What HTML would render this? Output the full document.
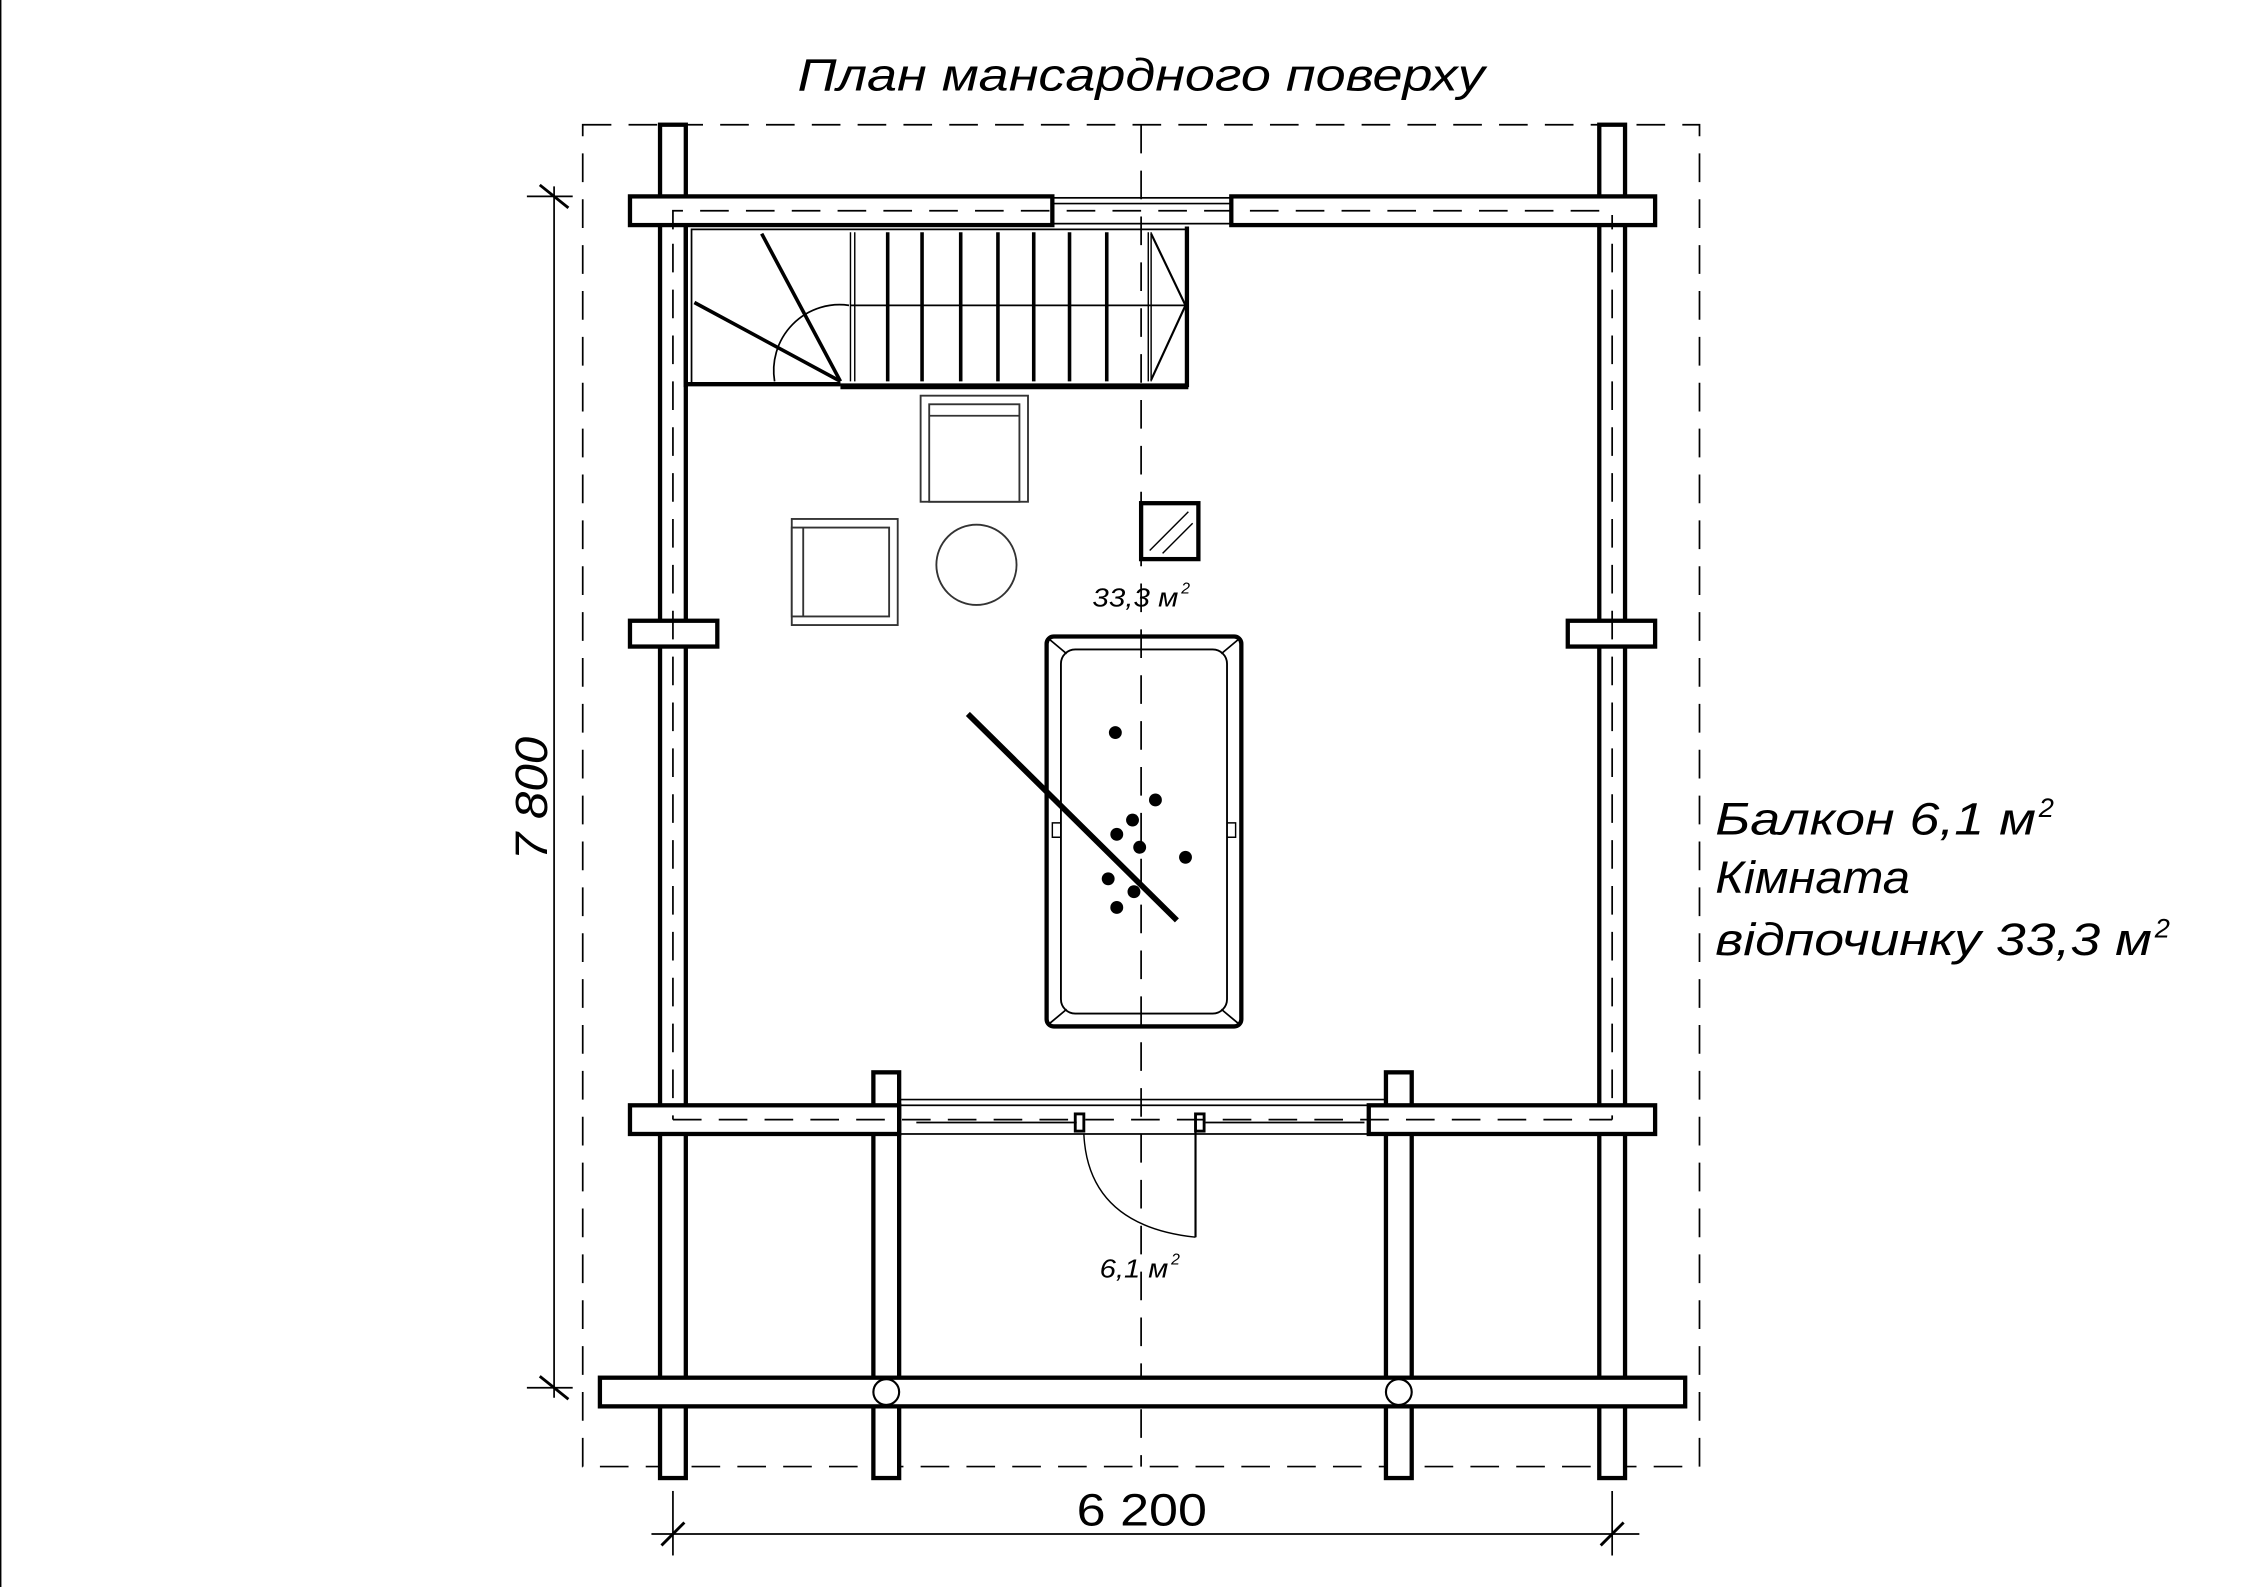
<!DOCTYPE html>
<html><head><meta charset="utf-8"><style>
html,body{margin:0;padding:0;background:#fff;}
svg{display:block;}
text{font-family:"Liberation Sans",sans-serif;font-style:italic;fill:#000;}
</style></head><body>
<svg width="2245" height="1587" viewBox="0 0 1568 1107" preserveAspectRatio="none" xmlns="http://www.w3.org/2000/svg">
<rect x="0" y="0" width="1568" height="1107" fill="#fff"/>
<line x1="0.5" y1="0" x2="0.5" y2="1107" stroke="#000" stroke-width="1"/>
<text x="557" y="63" font-size="32" textLength="480" lengthAdjust="spacingAndGlyphs">План мансардного поверху</text>

<!-- dashed outer -->
<g stroke="#000" stroke-width="1.2" fill="none" stroke-dasharray="20,12">
<rect x="407" y="87" width="780" height="936"/>
<line x1="797" y1="87" x2="797" y2="1023"/>
</g>

<!-- walls -->
<g stroke="#000" stroke-width="3" fill="#fff">
<rect x="461" y="87" width="18" height="944"/>
<rect x="1117" y="87" width="18" height="944"/>
<rect x="610" y="748" width="18" height="283"/>
<rect x="968" y="748" width="18" height="283"/>
<rect x="440" y="137" width="295" height="20"/>
<rect x="860" y="137" width="296" height="20"/>
<rect x="440" y="771" width="188" height="20"/>
<rect x="956" y="771" width="200" height="20"/>
<rect x="419" y="961" width="758" height="20"/>
<rect x="440" y="433" width="61" height="18"/>
<rect x="1095" y="433" width="61" height="18"/>
</g>
<g fill="#fff">
<rect x="463" y="139" width="14" height="16"/>
<rect x="1119" y="139" width="14" height="16"/>
<rect x="463" y="773" width="14" height="16"/>
<rect x="1119" y="773" width="14" height="16"/>
<rect x="612" y="773" width="14" height="16"/>
<rect x="970" y="773" width="14" height="16"/>
<rect x="463" y="963" width="14" height="16"/>
<rect x="1119" y="963" width="14" height="16"/>
<rect x="612" y="963" width="14" height="16"/>
<rect x="970" y="963" width="14" height="16"/>
<rect x="463" y="435" width="14" height="14"/>
<rect x="1119" y="435" width="14" height="14"/>
</g>
<circle cx="619" cy="971" r="9" fill="#fff" stroke="#000" stroke-width="1.5"/>
<circle cx="977" cy="971" r="9" fill="#fff" stroke="#000" stroke-width="1.5"/>

<!-- windows -->
<g stroke="#000" stroke-width="1.2" fill="none">
<rect x="735" y="138" width="125" height="18"/>
<line x1="735" y1="142" x2="860" y2="142"/>
<line x1="628" y1="767" x2="968" y2="767"/>
<rect x="628" y="771" width="328" height="20"/>
<line x1="640" y1="783" x2="752" y2="783"/>
<line x1="842" y1="783" x2="953" y2="783"/>
</g>

<!-- inner dashed -->
<g stroke="#000" stroke-width="1.2" fill="none" stroke-dasharray="20,12">
<path d="M470 160 L470 147 L1126 147 L1126 160"/>
<line x1="470" y1="170" x2="470" y2="781"/>
<line x1="1126" y1="170" x2="1126" y2="781"/>
<line x1="470" y1="781" x2="1126" y2="781"/>
</g>

<!-- stair -->
<g stroke="#000" fill="none">
<path d="M483 268 L483 160 L829 160 L829 268 Z" stroke-width="1.2"/>
<line x1="480" y1="268" x2="587" y2="268" stroke-width="3"/>
<line x1="587" y1="270" x2="830" y2="270" stroke-width="3"/>
<line x1="829" y1="158" x2="829" y2="270" stroke-width="3"/>
<line x1="479" y1="158" x2="479" y2="270" stroke-width="3"/>
<line x1="594" y1="213" x2="829" y2="213" stroke-width="1.2"/>
<line x1="532" y1="163" x2="587" y2="266" stroke-width="2.5"/>
<line x1="485" y1="211" x2="587" y2="266" stroke-width="2.5"/>
<path d="M541 266 A46 46 0 0 1 593 213" stroke-width="1.2"/>
<g stroke-width="2.5">
<line x1="620" y1="162" x2="620" y2="266"/><line x1="644" y1="162" x2="644" y2="266"/>
<line x1="671" y1="162" x2="671" y2="266"/><line x1="697" y1="162" x2="697" y2="266"/>
<line x1="722" y1="162" x2="722" y2="266"/><line x1="747" y1="162" x2="747" y2="266"/>
<line x1="773" y1="162" x2="773" y2="266"/>
</g>
<g stroke-width="1">
<line x1="594" y1="162" x2="594" y2="266"/><line x1="597" y1="162" x2="597" y2="266"/>
<line x1="802" y1="162" x2="802" y2="266"/><line x1="804" y1="162" x2="804" y2="266"/>
</g>
<path d="M804 163 L828 213 L804 265" stroke-width="1.5"/>
</g>

<!-- furniture -->
<g stroke="#333" stroke-width="1.3" fill="#fff">
<rect x="643" y="276" width="75" height="74"/>
<rect x="649" y="282" width="63" height="68"/>
<line x1="649" y1="290" x2="712" y2="290"/>
<rect x="553" y="362" width="74" height="74"/>
<rect x="553" y="368" width="68" height="62"/>
<line x1="561" y1="368" x2="561" y2="430"/>
<circle cx="682" cy="394" r="28"/>
</g>
<rect x="797" y="351" width="40" height="39" fill="#fff" stroke="#000" stroke-width="3"/>
<g stroke="#000" stroke-width="1"><line x1="803" y1="384" x2="830" y2="357"/><line x1="812" y1="386" x2="833" y2="365"/></g>
<text x="763" y="423" font-size="18" textLength="60" lengthAdjust="spacingAndGlyphs">33,3 м</text>
<text x="825" y="414" font-size="11">2</text>

<!-- billiard -->
<g stroke="#000" fill="none">
<rect x="731" y="444" width="136" height="272" rx="5" stroke-width="3"/>
<rect x="741" y="453" width="116" height="254" rx="10" stroke-width="1.3"/>
<path d="M733 446 L745 456 M865 446 L853 456 M733 714 L745 704 M865 714 L853 704" stroke-width="1.2"/>
<path d="M741 574 h-6 v10 h6 M857 574 h6 v10 h-6" stroke-width="1"/>
<line x1="676" y1="498" x2="822" y2="642" stroke-width="4"/>
</g>
<g fill="#000">
<circle cx="779" cy="511" r="4.5"/><circle cx="807" cy="558" r="4.5"/><circle cx="791" cy="572" r="4.5"/>
<circle cx="780" cy="582" r="4.5"/><circle cx="796" cy="591" r="4.5"/><circle cx="828" cy="598" r="4.5"/>
<circle cx="774" cy="613" r="4.5"/><circle cx="792" cy="622" r="4.5"/><circle cx="780" cy="633" r="4.5"/>
</g>

<!-- door -->
<g stroke="#000" fill="none">
<path d="M757 791 Q760 855 835 863" stroke-width="1"/>
<line x1="835" y1="785" x2="835" y2="863" stroke-width="1.5"/>
<rect x="751" y="777" width="6" height="12" stroke-width="2"/>
<rect x="835" y="777" width="6" height="12" stroke-width="2"/>
</g>
<text x="768" y="891" font-size="18" textLength="48" lengthAdjust="spacingAndGlyphs">6,1 м</text>
<text x="818" y="882" font-size="11">2</text>

<!-- dimensions -->
<g stroke="#000" stroke-width="1.2">
<line x1="387" y1="130" x2="387" y2="975"/>
<line x1="368" y1="137" x2="400" y2="137"/>
<line x1="368" y1="968" x2="400" y2="968"/>
<line x1="377" y1="129" x2="397" y2="145" stroke-width="2"/>
<line x1="377" y1="960" x2="397" y2="976" stroke-width="2"/>
<line x1="455" y1="1070" x2="1145" y2="1070"/>
<line x1="470" y1="1040" x2="470" y2="1085"/>
<line x1="1126" y1="1040" x2="1126" y2="1085"/>
<line x1="462" y1="1078" x2="478" y2="1062" stroke-width="2"/>
<line x1="1118" y1="1078" x2="1134" y2="1062" stroke-width="2"/>
</g>
<text x="752" y="1064" font-size="32" textLength="91" lengthAdjust="spacingAndGlyphs" style="font-style:normal">6 200</text>
<text transform="translate(382,600) rotate(-90)" font-size="32" textLength="86" lengthAdjust="spacingAndGlyphs">7 800</text>

<text x="1198" y="582" font-size="32" textLength="224" lengthAdjust="spacingAndGlyphs">Балкон 6,1 м</text>
<text x="1424" y="570" font-size="19">2</text>
<text x="1198" y="623" font-size="32" textLength="136" lengthAdjust="spacingAndGlyphs">Кімната</text>
<text x="1198" y="666" font-size="32" textLength="305" lengthAdjust="spacingAndGlyphs">відпочинку 33,3 м</text>
<text x="1505" y="654" font-size="19">2</text>
</svg>
</body></html>
